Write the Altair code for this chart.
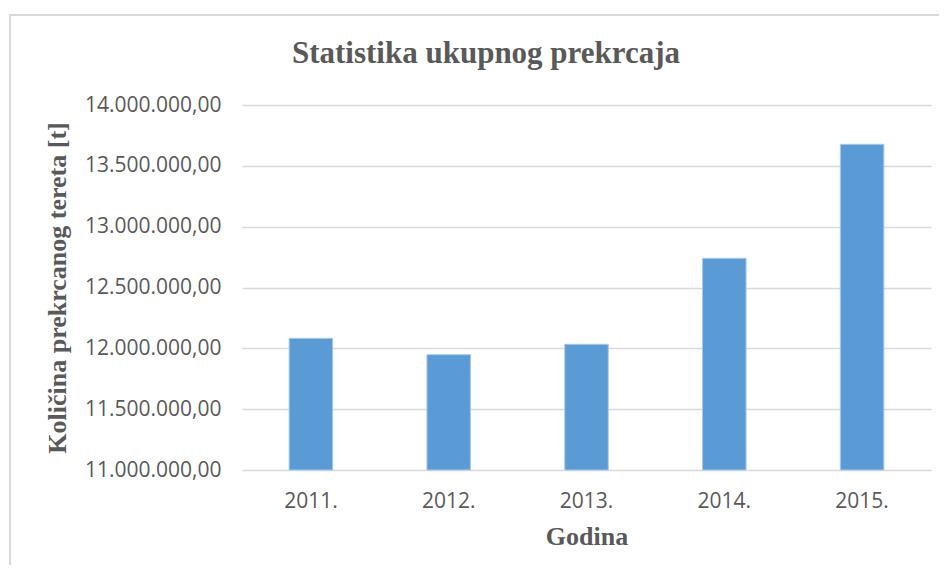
import altair as alt
import pandas as pd

years = ["2011.", "2012.", "2013.", "2014.", "2015."]
tonnage = [12082000, 11948000, 12033000, 12740000, 13677000]
y_ticks = [11000000, 11500000, 12000000, 12500000, 13000000, 13500000, 14000000]
y_min, y_max = 11000000, 14000000

title_text = "Statistika ukupnog prekrcaja"
x_title = "Godina"
y_title = "Količina prekrcanog tereta [t]"

df = pd.DataFrame({"year": years, "t": tonnage})

GRAY = "#595959"
GRID = "#d9d9d9"
SERIF = "Liberation Serif"
SANS = "Open Sans"

bars = alt.Chart(df).mark_bar(color="#5B9BD5", stroke="#a9caec", strokeWidth=1).encode(
    x=alt.X(
        "year:N",
        sort=years,
        scale=alt.Scale(paddingInner=0.684, paddingOuter=0.342),
        axis=alt.Axis(
            title=x_title,
            labelAngle=0,
            ticks=False,
            tickSize=0,
            domain=False,
            grid=False,
            labelFont=SANS,
            labelFontSize=21,
            labelColor=GRAY,
            labelPadding=20,
            titleFont=SERIF,
            titleFontSize=26,
            titleFontWeight="bold",
            titleColor=GRAY,
            titlePadding=12,
        ),
    ),
    y=alt.Y(
        "t:Q",
        scale=alt.Scale(domain=[y_min, y_max], zero=False, nice=False),
        axis=alt.Axis(
            title=y_title,
            values=y_ticks,
            labelExpr="replace(format(datum.value, ',.0f'), regexp(',', 'g'), '.') + ',00'",
            ticks=False,
            tickSize=0,
            domain=False,
            grid=True,
            gridColor=GRID,
            gridWidth=1.5,
            labelFont=SANS,
            labelFontSize=21,
            labelColor=GRAY,
            labelPadding=21,
            titleFont=SERIF,
            titleFontSize=26,
            titleFontWeight="bold",
            titleColor=GRAY,
            titlePadding=14,
        ),
    ),
    y2=alt.datum(y_min),
)

frame = alt.Chart(alt.Data(values=[{}])).mark_rect(
    fill=None, stroke=GRID, strokeWidth=2
).encode(
    x=alt.value(-232), x2=alt.value(760), y=alt.value(-90), y2=alt.value(560)
)

title = alt.Chart(alt.Data(values=[{"label": title_text}])).mark_text(
    font=SERIF,
    fontSize=31,
    fontWeight="bold",
    color=GRAY,
    align="center",
    baseline="alphabetic",
).encode(
    text="label:N", x=alt.value(244), y=alt.value(-42)
)

chart = alt.layer(frame, bars, title).properties(
    width=689,
    height=365,
    autosize=alt.AutoSizeParams(type="none"),
    padding={"left": 234, "top": 97, "right": 8, "bottom": 95},
).configure_view(stroke=None)

chart.save("out.html", embed_options={"renderer": "svg", "actions": False})
